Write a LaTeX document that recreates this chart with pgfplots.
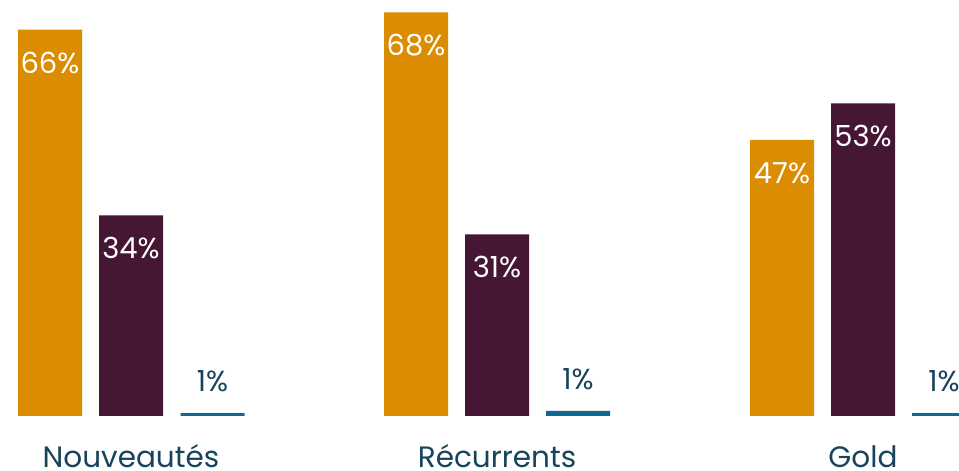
\documentclass[border=0pt]{standalone}
\usepackage{fontspec}
\setmainfont{Poppins}
\usepackage{pgfplots}
\pgfplotsset{compat=1.18}
\definecolor{cOrange}{HTML}{DB8C00}
\definecolor{cPurple}{HTML}{461734}
\definecolor{cBlue}{HTML}{0F6890}
\definecolor{cText}{HTML}{17445A}
\begin{document}
\begin{tikzpicture}
\useasboundingbox (0pt,-55pt) rectangle (959pt,416pt);
\begin{axis}[
  anchor=south west, at={(0pt,0pt)},
  x=1pt, y=5.9pt,
  xmin=0, xmax=959, ymin=0, ymax=70.5,
  axis line style={draw=none}, tick style={draw=none},
  ytick=\empty,
  xtick={131,497,863},
  xticklabels={Nouveautés,Récurrents,Gold},
  xticklabel style={anchor=base, yshift=-47pt, text=cText,
    font=\fontsize{29.5}{29.5}\selectfont},
  ybar, bar width=64pt, bar shift=0pt,
  clip mode=individual,
  point meta=explicit symbolic,
  nodes near coords={\pgfplotspointmeta\%},
  every node near coord/.append style={anchor=center,
    font=\fontsize{29}{29}\selectfont},
]
\addplot[fill=cOrange, draw=none,
  every node near coord/.append style={text=white, yshift=-33pt}]
  coordinates {(50,65.5)[66] (416,68.4)[68] (782,46.8)[47]};
\addplot[fill=cPurple, draw=none,
  every node near coord/.append style={text=white, yshift=-33pt}]
  coordinates {(131,34)[34] (497,30.8)[31] (863,53)[53]};
\addplot[fill=cBlue, draw=none,
  every node near coord/.append style={text=cText, yshift=32pt}]
  coordinates {(212.5,0.5)[1] (578,0.85)[1] (944,0.5)[1]};
\end{axis}
\end{tikzpicture}
\end{document}
